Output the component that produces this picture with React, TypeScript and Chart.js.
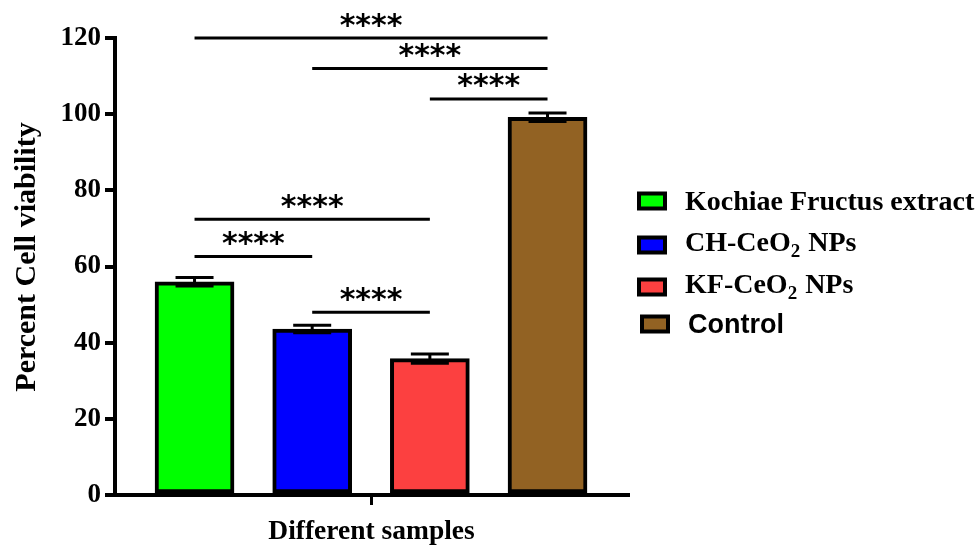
import React, { useEffect, useRef } from 'react';
import { Chart, registerables } from 'chart.js';

Chart.register(...registerables);

// ---- data ----
const categories = ['Kochiae Fructus extract', 'CH-CeO₂ NPs', 'KF-CeO₂ NPs', 'Control'];
const viability = [56.0, 43.6, 35.8, 99.2];
const sem = [1.1, 1.0, 1.2, 1.1];
const barColors = ['#00FF00', '#0000FF', '#FC4040', '#926223'];
const yTickStep = 20;
const yMin = 0;
const yMax = 120;
// [from index, to index, y level]
const bracketFrom = [0, 1, 2, 0, 0, 1];
const bracketTo = [3, 3, 3, 2, 1, 2];
const bracketLevel = [120, 112, 104, 72.4, 62.6, 48];
const sigLabel = '****';
const xTitle = 'Different samples';
const yTitle = 'Percent Cell viability';

const SERIF = '"Liberation Serif", "Times New Roman", serif';
const SANS = '"Liberation Sans", Arial, sans-serif';

const overlayPlugin = {
  id: 'overlay',
  afterDatasetsDraw(chart: any) {
    const ctx = chart.ctx as CanvasRenderingContext2D;
    const xs = chart.scales.x;
    const ys = chart.scales.y;
    ctx.save();
    // error bars
    ctx.strokeStyle = '#000';
    ctx.lineWidth = 3;
    ctx.lineCap = 'butt';
    viability.forEach((v, i) => {
      const x = xs.getPixelForValue(i);
      const yt = ys.getPixelForValue(v + sem[i]);
      const yb = ys.getPixelForValue(v - sem[i]);
      ctx.beginPath();
      ctx.moveTo(x, yb);
      ctx.lineTo(x, yt);
      ctx.moveTo(x - 19, yt);
      ctx.lineTo(x + 19, yt);
      ctx.moveTo(x - 19, yb);
      ctx.lineTo(x + 19, yb);
      ctx.stroke();
    });
    // significance brackets
    ctx.fillStyle = '#000';
    ctx.font = 'bold 30px "DejaVu Sans", sans-serif';
    ctx.textAlign = 'center';
    ctx.textBaseline = 'alphabetic';
    const m = ctx.measureText(sigLabel);
    const asc = m.actualBoundingBoxAscent;
    const desc = m.actualBoundingBoxDescent;
    bracketLevel.forEach((lvl, k) => {
      const x1 = xs.getPixelForValue(bracketFrom[k]);
      const x2 = xs.getPixelForValue(bracketTo[k]);
      const y = ys.getPixelForValue(lvl);
      ctx.beginPath();
      ctx.lineWidth = 3;
      ctx.moveTo(x1, y);
      ctx.lineTo(x2, y);
      ctx.stroke();
      const cy = y - 18;
      ctx.fillText(sigLabel, (x1 + x2) / 2, cy + (asc - desc) / 2);
    });
    ctx.restore();
  },
  afterDraw(chart: any) {
    const ctx = chart.ctx as CanvasRenderingContext2D;
    ctx.save();
    // y title
    ctx.fillStyle = '#000';
    ctx.font = `bold 30px ${SERIF}`;
    ctx.textAlign = 'center';
    ctx.textBaseline = 'alphabetic';
    ctx.translate(35, 257);
    ctx.rotate(-Math.PI / 2);
    ctx.fillText(yTitle, 0, 0);
    ctx.restore();

    // legend
    ctx.save();
    const baselines = [210, 251, 293, 333];
    const boxCenters = [201, 245, 287, 324];
    categories.forEach((label, i) => {
      const bx = i === 3 ? 640 : 637;
      const by = boxCenters[i] - 9.5;
      ctx.fillStyle = barColors[i];
      ctx.fillRect(bx + 2, by + 2, 26, 15);
      ctx.strokeStyle = '#000';
      ctx.lineWidth = 4;
      ctx.strokeRect(bx + 2, by + 2, 26, 15);
      const family = i === 3 ? SANS : SERIF;
      const size = i === 3 ? 27 : 28;
      let tx = i === 3 ? 688 : 685;
      const base = baselines[i];
      ctx.fillStyle = '#000';
      ctx.textAlign = 'left';
      ctx.textBaseline = 'alphabetic';
      const parts = label.split('₂');
      parts.forEach((p, j) => {
        ctx.font = `bold ${size}px ${family}`;
        ctx.fillText(p, tx, base);
        tx += ctx.measureText(p).width;
        if (j < parts.length - 1) {
          ctx.font = `bold 19px ${family}`;
          ctx.fillText('2', tx, base + 6);
          tx += ctx.measureText('2').width + 1;
        }
      });
    });
    ctx.restore();
  },
};

export default function App() {
  const ref = useRef<HTMLCanvasElement | null>(null);
  useEffect(() => {
    if (!ref.current) return;
    const chart = new Chart(ref.current, {
      type: 'bar',
      data: {
        datasets: [
          {
            label: 'Percent Cell viability',
            data: viability.map((v, i) => ({ x: i, y: v })),
            backgroundColor: barColors,
            borderColor: '#000',
            borderWidth: 4,
            borderSkipped: false,
            barThickness: 79,
          } as any,
        ],
      },
      options: {
        animation: false,
        responsive: false,
        layout: { padding: { left: 0, top: 38, right: 348, bottom: 0 } },
        plugins: { legend: { display: false }, tooltip: { enabled: false } },
        scales: {
          x: {
            type: 'linear',
            min: -0.676,
            max: 3.684,
            offset: false,
            afterBuildTicks: (s: any) => {
              s.ticks = [{ value: (categories.length - 1) / 2 }];
            },
            afterFit: (s: any) => {
              s.height = 53;
            },
            ticks: { display: false },
            grid: { offset: false, drawOnChartArea: false, drawTicks: true, tickLength: 10, color: '#000', lineWidth: 3 },
            border: { display: true, color: '#000', width: 4 },
            title: {
              display: true,
              text: xTitle,
              color: '#000',
              font: { family: SERIF, size: 27.5, weight: 'bold' },
              padding: { top: 0, bottom: 0 },
            },
          },
          y: {
            type: 'linear',
            min: yMin,
            max: yMax,
            afterFit: (s: any) => {
              s.width = 115;
            },
            ticks: {
              stepSize: yTickStep,
              color: '#000',
              padding: 4,
              font: { family: SERIF, size: 27, weight: 'bold' },
            },
            grid: { drawOnChartArea: false, drawTicks: true, tickLength: 10, color: '#000', lineWidth: 4 },
            border: { display: true, color: '#000', width: 4 },
          },
        },
      },
      plugins: [overlayPlugin],
    });
    return () => chart.destroy();
  }, []);
  return (
    <div style={{ position: 'fixed', left: 0, top: 0, width: 976, height: 548, background: '#fff' }}>
      <canvas ref={ref} width={976} height={548} style={{ display: 'block' }} />
    </div>
  );
}
